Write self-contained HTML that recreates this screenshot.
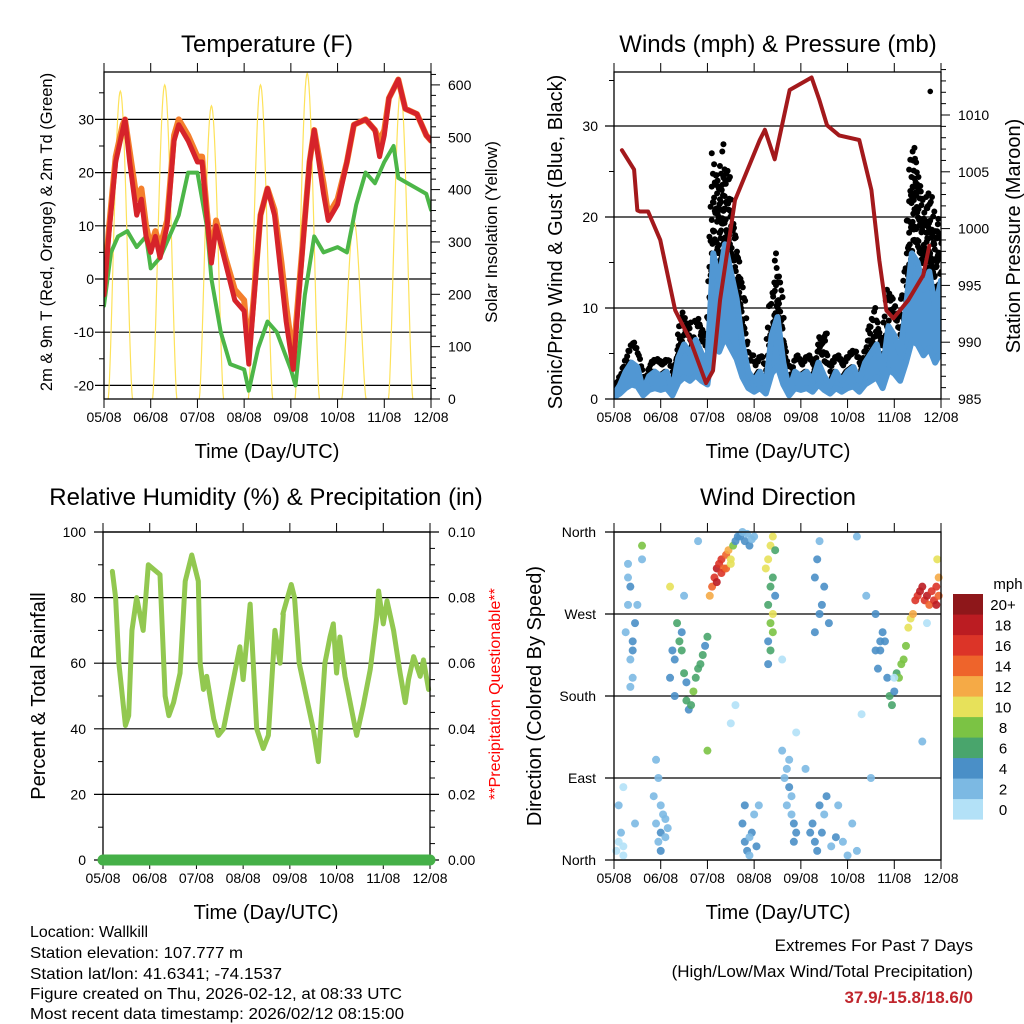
<!DOCTYPE html>
<html><head><meta charset="utf-8"><style>
body{margin:0;background:#fff}
svg{display:block;font-family:"Liberation Sans",sans-serif}
</style></head><body>
<svg id="s" width="1024" height="1024" viewBox="0 0 1024 1024" xmlns="http://www.w3.org/2000/svg">
<rect width="1024" height="1024" fill="#fff"/>
<g id="tl"></g>
<g id="tr"></g>
<g id="bl"></g>
<g id="br"></g>
<g font-size="16" fill="#000">
<text x="30" y="937" textLength="118" lengthAdjust="spacingAndGlyphs">Location: Wallkill</text>
<text x="30" y="958" textLength="213" lengthAdjust="spacingAndGlyphs">Station elevation: 107.777 m</text>
<text x="30" y="979" textLength="252" lengthAdjust="spacingAndGlyphs">Station lat/lon: 41.6341; -74.1537</text>
<text x="30" y="999" textLength="372" lengthAdjust="spacingAndGlyphs">Figure created on Thu, 2026-02-12, at 08:33 UTC</text>
<text x="30" y="1019" textLength="374" lengthAdjust="spacingAndGlyphs">Most recent data timestamp: 2026/02/12 08:15:00</text>
</g>
<g font-size="17" text-anchor="end">
<text x="973" y="951">Extremes For Past 7 Days</text>
<text x="973" y="977">(High/Low/Max Wind/Total Precipitation)</text>
<text x="973" y="1003" font-weight="bold" fill="#c0262d">37.9/-15.8/18.6/0</text>
</g>
</svg>
<script>
// ---------- DATA ----------
const xTickLabels = ["05/08","06/08","07/08","08/08","09/08","10/08","11/08","12/08"];
const tempDays = [0,0.1,0.25,0.4,0.45,0.55,0.7,0.8,0.9,1.0,1.1,1.2,1.35,1.5,1.6,1.8,2.0,2.1,2.2,2.3,2.4,2.6,2.8,3.0,3.1,3.2,3.35,3.5,3.65,3.8,3.9,4.05,4.2,4.4,4.5,4.7,4.8,5.0,5.2,5.35,5.6,5.8,5.9,6.0,6.1,6.3,6.45,6.7,6.9,7.0];
const temp2m = [-3,8,22,28,30,22,12,15,8,5,8,4,10,26,29,26,22,22,12,3,10,3,-4,-6,-16,-5,12,17,12,0,-8,-17,0,22,28,16,11,14,22,29,30,28,23,27,34,37.5,32,31,27,26];
const temp9m = [-2,9,23,29,30,24,15,17,10,6,9,6,11,27,30,27,23,23,13,4,11,4,-2,-4,-14,-4,12,17,13,3,-5,-15,1,22,28,18,12,15,22,29,30,28,26,28,34,37.5,32,31,27,26];
const dewDays = [0,0.15,0.3,0.5,0.7,0.9,1.0,1.2,1.4,1.6,1.8,2.0,2.2,2.3,2.5,2.7,3.0,3.1,3.3,3.5,3.7,4.0,4.1,4.3,4.5,4.7,5.0,5.2,5.4,5.6,5.8,6.0,6.2,6.3,6.5,6.7,6.9,7.0];
const dewPoint = [-5,5,8,9,6,8,2,4,8,12,20,20,10,0,-10,-16,-17,-21,-13,-8,-10,-17,-20,-3,8,5,6,5,14,20,18,22,25,19,18,17,16,13];
const solarPeakDays = [0.35,1.3,2.3,3.35,4.35,5.35,6.35];
const solarPeaks = [588,600,560,600,622,340,590];
const windDays = Array.from({length:57},(_,i)=>i*0.125);
const windSpeed = [0.5,1.5,3,4,3.5,1,2.5,3,2.5,3,1,4.5,6,5,6.5,5,4,16,13,17,14,11,6,3,2,3,1.5,7,9,4,1,3,2.5,3,2,4,2.5,1.5,3,2,3,3.5,2,4,5,6,3,8,7,5,10,16,15,12,14,10,13];
const windGust = [1.5,3,5,6.5,5,2,4,4.5,4,4.5,3,7,9.5,8,9,8,7,27,24,28,22,18,12,6,4,5,3,12,16,8,3,5,4,5,4,6,8,4,5,4,5,5.5,4,6,8,10,6,12,11,9,14,28,26,22,23,19,20];
const presDays = [0.17,0.43,0.5,0.56,0.73,0.99,1.31,1.63,1.97,2.12,2.27,2.59,3.12,3.23,3.44,3.76,4.23,4.39,4.56,4.82,5.25,5.51,5.68,5.83,5.98,6.3,6.62,6.75];
const pressure = [1006.9,1005.2,1001.6,1001.5,1001.5,999,992.8,990.2,986.4,987.5,993.7,1002.5,1007.8,1008.7,1006.1,1012.2,1013.3,1011.4,1009.1,1008.2,1007.8,1003.4,997.2,992.8,992.1,993.7,995.9,998.5];
const rhDays = [0.2,0.27,0.34,0.48,0.55,0.62,0.72,0.86,0.97,1.22,1.33,1.41,1.51,1.65,1.76,1.9,2.04,2.08,2.15,2.22,2.37,2.47,2.58,2.79,2.93,3.0,3.15,3.29,3.43,3.54,3.68,3.79,3.86,3.85,4.03,4.1,4.2,4.5,4.61,4.75,4.86,4.93,5.0,5.07,5.18,5.43,5.57,5.72,5.86,5.9,6.0,6.08,6.22,6.36,6.47,6.54,6.65,6.79,6.86,6.97];
const rh = [88,80,60,41,44,70,80,70,90,87,50,44,48,57,85,93,85,60,52,56,43,38,40,55,65,55,78,40,34,38,70,60,75,75,84,80,60,40,30,60,68,72,57,68,56,38,47,58,74,82,72,79,70,57,48,55,62,56,61,52];
const precip = [0,0];
const precipDays = [0,7];
// wind direction: [day, direction deg, speed mph]
const dirDays = [0.05,0.1,0.15,0.2,0.25,0.3,0.35,0.35,0.4,0.4,0.45,0.3,0.35,0.4,0.1,0.2,0.45,0.3,0.5,0.6,0.85,0.9,0.95,1.0,1.0,1.05,1.1,0.95,1.0,1.1,0.9,1.15,1.2,1.25,1.3,1.3,1.35,1.4,1.45,1.5,1.55,1.6,1.65,1.7,1.75,1.8,1.85,1.9,1.95,2.0,1.5,1.45,1.55,2.05,2.1,2.15,2.2,2.25,2.3,2.35,2.4,2.45,2.5,2.55,2.6,2.65,2.2,2.3,2.4,2.5,2.7,2.75,2.8,2.85,2.9,2.95,3.0,2.75,2.8,2.85,2.9,2.95,3.0,3.05,2.8,2.9,3.3,3.35,3.4,3.45,3.35,3.4,3.3,3.45,3.35,3.4,3.3,3.35,3.4,3.25,3.3,3.6,3.65,3.7,3.75,3.8,3.85,3.9,3.7,3.8,3.75,3.85,4.2,4.25,4.3,4.35,4.4,4.45,4.5,4.55,4.3,4.4,4.5,4.35,4.45,4.3,4.4,4.6,4.65,4.75,4.8,5.0,5.1,5.2,5.4,5.6,5.65,5.7,5.75,5.6,5.7,5.8,5.85,5.9,5.95,6.0,6.05,6.1,6.15,6.2,6.25,6.3,6.35,6.4,6.45,6.5,6.55,6.6,6.65,6.7,6.75,6.8,6.85,6.9,6.95,6.9,6.95,6.92,0.6,1.2,2.0,2.5,3.1,3.9,4.1,4.9,5.3,5.5,6.0,6.6,0.2,1.8,2.6,3.6,5.2,6.7];
const dirVals = [10,20,30,5,250,280,300,220,240,200,260,310,190,230,60,15,40,325,280,330,70,40,20,30,60,50,25,90,10,45,110,35,200,230,220,180,260,240,230,205,175,165,170,185,200,210,215,225,235,245,290,250,195,290,300,310,320,325,330,320,335,340,330,345,350,355,305,315,320,325,355,360,350,358,345,352,355,40,20,10,5,30,50,15,60,25,330,345,355,340,300,310,280,290,260,250,240,230,270,320,215,120,90,60,80,50,40,30,100,70,110,20,30,40,20,10,60,30,50,70,250,270,300,330,280,310,350,260,15,25,60,5,40,10,290,230,210,240,250,270,230,240,200,180,170,185,205,200,215,220,235,255,265,270,285,290,295,300,285,290,280,295,285,300,290,280,310,330,345,300,120,150,60,140,100,20,160,90,200,130,80,350,170,220,355,260,100,140];
const dirSpeeds = [0,0,1,0,2,2,3,2,3,2,3,1,2,3,1,0,1,1,2,1,2,2,2,3,2,2,2,1,3,2,1,2,3,4,4,4,5,6,6,6,5,4,6,7,6,6,6,5,4,5,1,3,4,12,14,16,17,16,15,14,13,11,9,8,4,3,17,15,14,10,3,2,3,2,3,1,2,3,4,4,2,3,2,3,3,2,9,10,9,6,6,5,6,4,8,7,4,5,10,10,4,1,2,2,3,2,3,3,1,2,1,3,3,3,4,3,4,3,2,4,3,4,3,4,3,3,1,3,2,3,2,2,1,2,1,3,4,4,3,4,3,4,4,5,6,4,5,7,7,8,8,9,10,12,15,16,17,18,16,17,14,15,16,15,13,17,12,10,8,9,8,0,1,0,1,1,0,1,0,1,0,1,0,0,1,0,1,0,1];
const speedBins = ["0","2","4","6","8","10","12","14","16","18","20+"];
</script>
<script>
const NS="http://www.w3.org/2000/svg";
function mk(parent,tag,attrs){const e=document.createElementNS(NS,tag);for(const k in attrs)e.setAttribute(k,attrs[k]);parent.appendChild(e);return e;}
function txt(parent,x,y,s,size,anchor,extra){const e=mk(parent,'text',Object.assign({x:x,y:y,'font-size':size,'text-anchor':anchor||'middle'},extra||{}));e.textContent=s;return e;}
const colors=["#b3e1f7","#7cb9e3","#4a8fc7","#49a56c","#7bc344","#e7e15a","#f5aa46","#ee642b","#dc3428","#bb1c22","#8e171a"];
function spdColor(v){let i=Math.floor(v/2+0.5);if(i>10)i=10;if(i<0)i=0;return colors[i];}

function frame(g,L,T,R,B,xs,bottomLabelY){
  for(let i=0;i<8;i++){const x=L+i*(R-L)/7;
    const t1=mk(g,'line',{x1:x,x2:x,y1:T-9,y2:T,stroke:'#000','stroke-width':1});
    
    const t2=mk(g,'line',{x1:x,x2:x,y1:B,y2:B+9,stroke:'#000','stroke-width':1});
    
    const l=txt(g,x,bottomLabelY,xTickLabels[i],14);
    
  }
  const r=mk(g,'rect',{x:L,y:T,width:R-L,height:B-T,fill:'none',stroke:'#000','stroke-width':1.3});
  
}

// ---------- TEMPERATURE ----------
(function(){
  const g=document.getElementById('tl');
  const L=104,R=431,T=72,B=399;
  const X=d=>L+d*(R-L)/7, Y=t=>279-t*5.32, YS=s=>399-s*0.5235;
  const tt=txt(g,267,52,'Temperature (F)',24);
  const cp=mk(g,'clipPath',{id:'c1'});mk(cp,'rect',{x:L,y:T,width:R-L,height:B-T});
  [-20,-10,0,10,20,30].forEach(v=>{const ln=mk(g,'line',{x1:L-9,x2:R,y1:Y(v),y2:Y(v),stroke:'#000','stroke-width':1.2});
    
    const l=txt(g,94,Y(v)+5,String(v),14,'end');});
  for(let v=-20;v<=35;v+=5){if(v%10){const m=mk(g,'line',{x1:L-5,x2:L,y1:Y(v),y2:Y(v),stroke:'#000'});}}
  for(let s=0;s<=620;s+=20){const big=s%100===0;const m=mk(g,'line',{x1:R,x2:R+(big?9:5),y1:YS(s),y2:YS(s),stroke:'#000'});
    if(big){const l=txt(g,448,YS(s)+5,String(s),14,'start');}}
  const pg=mk(g,'g',{'clip-path':'url(#c1)'});
  solarPeakDays.forEach((pd,i)=>{let pts=[];for(let k=-20;k<=20;k++){const d=pd+k*0.013;const v=solarPeaks[i]*Math.pow(Math.max(0,Math.cos(k/20*Math.PI/2)),1.5);pts.push(X(d)+','+YS(v));}
    const p=mk(pg,'polyline',{points:pts.join(' '),fill:'none',stroke:'#fde25a','stroke-width':1.2});});
  const line=(days,vals,col,w,name)=>{const p=mk(pg,'polyline',{points:days.map((d,i)=>X(d)+','+Y(vals[i])).join(' '),fill:'none',stroke:col,'stroke-width':w,'stroke-linejoin':'round','stroke-linecap':'round'});};
  line(dewDays,dewPoint,'#4cb648',4,'dewpoint-line');
  line(tempDays,temp9m,'#f47f2c',6,'temp-9m-line');
  line(tempDays,temp2m,'#d6232a',5,'temp-2m-line');
  frame(g,L,T,R,B,null,422);
  const xl=txt(g,267,458,'Time (Day/UTC)',20);
  const yl=txt(g,0,0,'2m & 9m T (Red, Orange) & 2m Td (Green)',16.5,'middle',{transform:'translate(52,232) rotate(-90)'});
  const y2=txt(g,0,0,'Solar Insolation (Yellow)',17,'middle',{transform:'translate(497,232) rotate(-90)'});
})();

// ---------- WINDS ----------
(function(){
  const g=document.getElementById('tr');
  const L=614,R=941,T=72,B=399;
  const X=d=>L+d*(R-L)/7, Y=v=>399-v*9.1, YP=p=>399-(p-985)*11.36;
  const tt=txt(g,778,52,'Winds (mph) & Pressure (mb)',24);
  const cp=mk(g,'clipPath',{id:'c2'});mk(cp,'rect',{x:L,y:T,width:R-L,height:B-T});
  [0,10,20,30].forEach(v=>{const ln=mk(g,'line',{x1:L-9,x2:R,y1:Y(v),y2:Y(v),stroke:'#000','stroke-width':1.2});
    const l=txt(g,598,Y(v)+5,String(v),14,'end');});
  [5,15,25,35].forEach(v=>{const m=mk(g,'line',{x1:L-5,x2:L,y1:Y(v),y2:Y(v),stroke:'#000'});});
  for(let p=985;p<=1014;p++){const big=p%5===0;const m=mk(g,'line',{x1:R,x2:R+(big?9:5),y1:YP(p),y2:YP(p),stroke:'#000'});
    if(big){const l=txt(g,958,YP(p)+5,String(p),14,'start');}}
  const pg=mk(g,'g',{'clip-path':'url(#c2)'});
  for(let i=0;i<windDays.length-1;i++){for(let s=0;s<5;s++){const f=s/5;const d=windDays[i]+f*0.125;
      const v=windSpeed[i]+(windSpeed[i+1]-windSpeed[i])*f, gg=windGust[i]+(windGust[i+1]-windGust[i])*f;
      const n=Math.max(1,Math.round((gg-v)/1.8));
      for(let k=0;k<=n;k++){const val=v+(gg-v)*k/n*((k+s)%2?0.85:1);const c=mk(pg,'circle',{cx:X(d)+((k%2)?1.5:-1.5),cy:Y(val),r:3,fill:'#000'});}}}
  const sp=mk(g,'circle',{cx:X(6.77),cy:Y(33.8),r:2.8,fill:'#000'});
  const up=windDays.map((d,i)=>X(d)+','+Y(windSpeed[i])), lo=windDays.map((d,i)=>X(d)+','+Y(windSpeed[i]*0.4)).reverse();
  const band=mk(pg,'polygon',{points:up.concat(lo).join(' '),fill:'#5197d3',stroke:'#5197d3','stroke-width':6,'stroke-linejoin':'round'});
  const pl=mk(pg,'polyline',{points:presDays.map((d,i)=>X(d)+','+YP(pressure[i])).join(' '),fill:'none',stroke:'#a3191c','stroke-width':4,'stroke-linejoin':'round','stroke-linecap':'round'});
  frame(g,L,T,R,B,null,422);
  const xl=txt(g,778,458,'Time (Day/UTC)',20);
  const yl=txt(g,0,0,'Sonic/Prop Wind & Gust (Blue, Black)',20,'middle',{transform:'translate(562,242) rotate(-90)'});
  const y2=txt(g,0,0,'Station Pressure (Maroon)',20,'middle',{transform:'translate(1020,236) rotate(-90)'});
})();

// ---------- HUMIDITY ----------
(function(){
  const g=document.getElementById('bl');
  const L=103,R=430,T=532,B=860;
  const X=d=>L+d*(R-L)/7, Y=h=>860-h*3.28, YR=p=>860-p*3280;
  const tt=txt(g,266,505,'Relative Humidity (%) & Precipitation (in)',24);
  [0,20,40,60,80,100].forEach(v=>{const ln=mk(g,'line',{x1:L-9,x2:R+9,y1:Y(v),y2:Y(v),stroke:'#000','stroke-width':1.2});
    const l=txt(g,86,Y(v)+5,String(v),14,'end');
    const r=txt(g,448,Y(v)+5,(v/1000).toFixed(2),14,'start');});
  for(let v=10;v<100;v+=20){const m=mk(g,'line',{x1:L-5,x2:L,y1:Y(v),y2:Y(v),stroke:'#000'});}
  for(let v=5;v<100;v+=5){if(v%20){const m=mk(g,'line',{x1:R,x2:R+5,y1:Y(v),y2:Y(v),stroke:'#000'});}}
  const p=mk(g,'polyline',{points:rhDays.map((d,i)=>X(d)+','+Y(rh[i])).join(' '),fill:'none',stroke:'#92c850','stroke-width':5,'stroke-linejoin':'round','stroke-linecap':'round'});
  frame(g,L,T,R,B,null,883);
  const pr=mk(g,'polyline',{points:precipDays.map((d,i)=>X(d)+','+YR(precip[i])).join(' '),fill:'none',stroke:'#45b048','stroke-width':11,'stroke-linecap':'round'});
  const xl=txt(g,266,919,'Time (Day/UTC)',20);
  const yl=txt(g,0,0,'Percent & Total Rainfall',20,'middle',{transform:'translate(45,696) rotate(-90)'});
  const y2=txt(g,0,0,'**Precipitation Questionable**',16,'middle',{transform:'translate(500,694) rotate(-90)',fill:'#ff0000'});
})();

// ---------- WIND DIRECTION ----------
(function(){
  const g=document.getElementById('br');
  const L=614,R=941,T=532,B=860;
  const X=d=>L+d*(R-L)/7, Y=a=>860-a/360*328;
  const tt=txt(g,778,505,'Wind Direction',24);
  const dirLabels=["North","East","South","West","North"];
  dirLabels.forEach((s,i)=>{const y=Y(i*90);const ln=mk(g,'line',{x1:L-9,x2:R,y1:y,y2:y,stroke:'#000','stroke-width':1.2});
    const l=txt(g,596,y+5,s,14,'end');});
  const cp=mk(g,'clipPath',{id:'c4'});mk(cp,'rect',{x:L-4,y:T-4,width:R-L+8,height:B-T+8});
  const pg=mk(g,'g',{'clip-path':'url(#c4)'});
  dirDays.forEach((d,i)=>{const c=mk(pg,'circle',{cx:X(d),cy:Y(dirVals[i]),r:4,fill:spdColor(dirSpeeds[i]),'fill-opacity':0.9});
    });
  frame(g,L,T,R,B,null,883);
  const xl=txt(g,778,919,'Time (Day/UTC)',20);
  const yl=txt(g,0,0,'Direction (Colored By Speed)',20,'middle',{transform:'translate(541,696) rotate(-90)'});
  const lg=mk(g,'g',{});
  const lt=txt(lg,1008,589,'mph',15);
  speedBins.forEach((s,i)=>{const y=594+(10-i)*20.5;
    const r=mk(lg,'rect',{x:953,y:y,width:30,height:20.6,fill:colors[i]});
    const l=txt(lg,1003,y+16,s,15);});
})();
</script>
</body></html>
